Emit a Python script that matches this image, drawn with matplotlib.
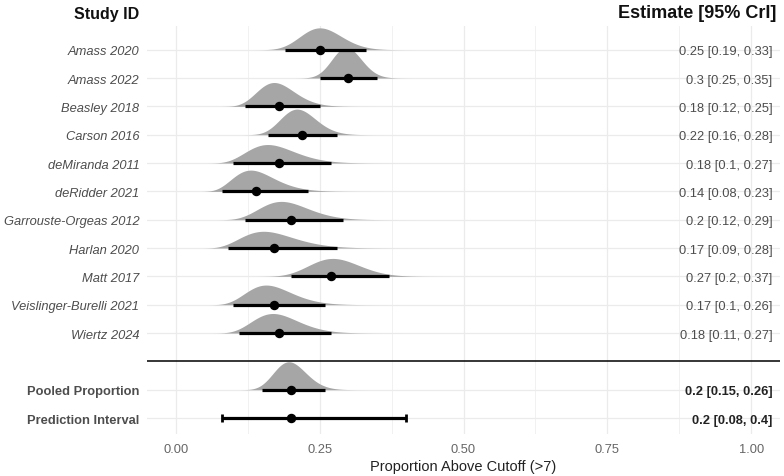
import numpy as np
import matplotlib
matplotlib.use("Agg")
import matplotlib.pyplot as plt

plt.rcParams['font.family'] = ['Liberation Sans', 'DejaVu Sans']

# ---------------- data ----------------
studies = ["Amass 2020", "Amass 2022", "Beasley 2018", "Carson 2016", "deMiranda 2011",
           "deRidder 2021", "Garrouste-Orgeas 2012", "Harlan 2020", "Matt 2017",
           "Veislinger-Burelli 2021", "Wiertz 2024"]
est = [0.25, 0.30, 0.18, 0.22, 0.18, 0.14, 0.20, 0.17, 0.27, 0.17, 0.18]
lo = [0.19, 0.25, 0.12, 0.16, 0.10, 0.08, 0.12, 0.09, 0.20, 0.10, 0.11]
hi = [0.33, 0.35, 0.25, 0.28, 0.27, 0.23, 0.29, 0.28, 0.37, 0.26, 0.27]

pooled_label = "Pooled Proportion"
pooled_est, pooled_lo, pooled_hi = 0.20, 0.15, 0.26
pred_label = "Prediction Interval"
pred_est, pred_lo, pred_hi = 0.20, 0.08, 0.40

x_ticks = [0.0, 0.25, 0.5, 0.75, 1.0]
x_ticklabels = ["0.00", "0.25", "0.50", "0.75", "1.00"]
x_title = "Proportion Above Cutoff (>7)"
left_header = "Study ID"
right_header = "Estimate [95% CrI]"

# ---------------- helpers ----------------
SLAB = "#A6A6A6"
LABEL_C = "#4D4D4D"
K = 0.069  # slab scale (area-normalised density)


def logit(p):
    p = np.asarray(p, float)
    return np.log(p / (1 - p))


def slab(ax, y, e, l, h):
    mu = (logit(l) + logit(h)) / 2
    sd = (logit(h) - logit(l)) / 3.92
    z = np.linspace(mu - 4.0 * sd, mu + 4.0 * sd, 600)
    p = 1 / (1 + np.exp(-z))
    dens = np.exp(-0.5 * ((z - mu) / sd) ** 2) / (sd * np.sqrt(2 * np.pi)) / (p * (1 - p))
    ax.fill_between(p, y, y + K * dens, color=SLAB, lw=0, zorder=2)
    ax.plot([l, h], [y, y], color="black", lw=2.3, solid_capstyle="butt", zorder=3)
    ax.plot([e], [y], "o", color="black", ms=5.8, zorder=4)


def fmt(v):
    return f"{v:g}"


# ---------------- figure ----------------
fig = plt.figure(figsize=(7.84, 4.77), dpi=100)
ax = fig.add_axes([147 / 784, 42 / 477, 633 / 784, 408 / 477])

n = len(studies)
ys = [n + 3 - i for i in range(n)]  # 14 .. 4
sep_y = 3
pooled_y = 2
pred_y = 1

for y, s, e, l, h in zip(ys, studies, est, lo, hi):
    slab(ax, y, e, l, h)
    ax.text(1.0365, y, f"{fmt(e)} [{fmt(l)}, {fmt(h)}]", ha="right", va="center_baseline",
            fontsize=9.3, color=LABEL_C, zorder=5)

slab(ax, pooled_y, pooled_est, pooled_lo, pooled_hi)
ax.text(1.0365, pooled_y, f"{fmt(pooled_est)} [{fmt(pooled_lo)}, {fmt(pooled_hi)}]",
        ha="right", va="center_baseline", fontsize=9.3, color="#222222",
        fontweight="bold", zorder=5)

ax.errorbar([pred_est], [pred_y], xerr=[[pred_est - pred_lo], [pred_hi - pred_est]],
            fmt="o", color="black", ms=5.8, elinewidth=2.3, capsize=3.0, capthick=2.0,
            zorder=4)
ax.text(1.0365, pred_y, f"{fmt(pred_est)} [{fmt(pred_lo)}, {fmt(pred_hi)}]",
        ha="right", va="center_baseline", fontsize=9.3, color="#222222",
        fontweight="bold", zorder=5)

ax.axhline(sep_y, color="black", lw=1.1, zorder=6)

ax.set_xlim(-0.05, 1.05)
ax.set_ylim(0.437, 14.837)

ax.set_xticks(x_ticks)
ax.set_xticklabels(x_ticklabels)
ax.set_xticks([0.125, 0.375, 0.625, 0.875], minor=True)

ytick_pos = ys + [pooled_y, pred_y]
ytick_lab = studies + [pooled_label, pred_label]
ax.set_yticks(ytick_pos)
ax.set_yticklabels(ytick_lab)
for t in ax.get_yticklabels()[:n]:
    t.set_fontstyle("italic")
for t in ax.get_yticklabels()[n:]:
    t.set_fontweight("bold")

ax.tick_params(axis="both", which="both", length=0)
ax.tick_params(axis="y", labelsize=9.3, labelcolor=LABEL_C, pad=5.5)
ax.tick_params(axis="x", labelsize=9.3, labelcolor="#666666", pad=6.5)

ax.grid(True, which="major", color="#EBEBEB", lw=0.9, zorder=0)
ax.grid(True, which="minor", axis="x", color="#EFEFEF", lw=0.6, zorder=0)
ax.set_axisbelow(True)
for sp in ax.spines.values():
    sp.set_visible(False)

ax.set_xlabel(x_title, fontsize=10.5, color="#222222", labelpad=3)

fig.text(139 / 784, 1 - 14 / 477, left_header, ha="right", va="center",
         fontsize=11.5, fontweight="bold", color="#111111")
fig.text(776 / 784, 1 - 14 / 477, right_header, ha="right", va="center",
         fontsize=13, fontweight="bold", color="#111111")

fig.savefig("out.png", dpi=100)
